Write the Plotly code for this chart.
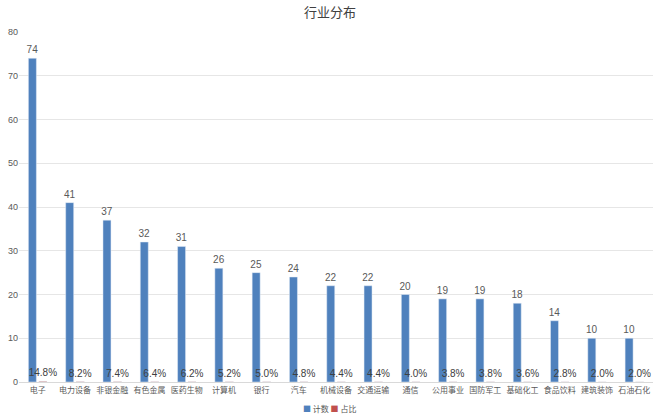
#!/usr/bin/env python3

import plotly.graph_objects as go

industries = ["电子", "电力设备", "非银金融", "有色金属", "医药生物", "计算机", "银行", "汽车",
              "机械设备", "交通运输", "通信", "公用事业", "国防军工", "基础化工", "食品饮料",
              "建筑装饰", "石油石化"]
counts = [74, 41, 37, 32, 31, 26, 25, 24, 22, 22, 20, 19, 19, 18, 14, 10, 10]
shares = [0.148, 0.082, 0.074, 0.064, 0.062, 0.052, 0.050, 0.048, 0.044, 0.044,
          0.040, 0.038, 0.038, 0.036, 0.028, 0.020, 0.020]

num_font = "Liberation Sans"
cjk_font = "Noto Sans CJK SC"
grey = "#595959"
blue = "#4F81BD"
red = "#C0504D"

fig = go.Figure()
fig.add_trace(go.Bar(
    name="计数", x=industries, y=counts,
    marker_color=blue,
    text=counts, textposition="outside", constraintext="none",
    textfont=dict(family=num_font, size=10, color=grey),
    cliponaxis=False,
))
fig.add_trace(go.Bar(
    name="占比", x=industries, y=shares,
    marker_color=red,
    texttemplate="%{y:.1%}", textposition="outside", constraintext="none",
    textfont=dict(family=num_font, size=10, color="#404040"),
    cliponaxis=False,
))

# legend drawn as a text line, plotly's own legend spacing is too wide
legend_text = (f"<span style='color:{blue}'>■</span> 计数 "
               f"<span style='color:{red}'>■</span> 占比")
fig.add_annotation(
    text=legend_text, xref="paper", yref="paper", x=0.49, y=-0.077,
    xanchor="center", yanchor="middle", showarrow=False,
    font=dict(family=cjk_font, size=8, color=grey),
)

fig.update_layout(
    width=660, height=420,
    margin=dict(l=19, r=7, t=32, b=38),
    paper_bgcolor="white", plot_bgcolor="white",
    barmode="group", bargap=0.436, bargroupgap=0.24,
    title=dict(text="行业分布", x=0.5, xanchor="center", y=0.97, yanchor="middle",
               font=dict(family=cjk_font, size=13, color="#404040")),
    showlegend=False,
)
fig.update_xaxes(
    tickangle=0,
    tickfont=dict(family=cjk_font, size=8, color=grey),
    showline=True, linecolor="#D9D9D9", ticks="", showgrid=False,
)
fig.update_yaxes(
    range=[0, 80], dtick=10,
    tickfont=dict(family=num_font, size=9, color=grey),
    gridcolor="#E6E6E6", zeroline=False, showline=False, ticks="",
)

# page body has an 8px default margin, drop it so the figure fills the window
fig.write_html("out.html", config={"displayModeBar": False},
               post_script="document.body.style.margin = '0';")
